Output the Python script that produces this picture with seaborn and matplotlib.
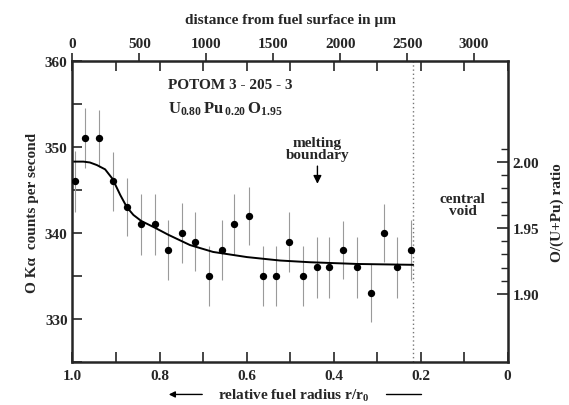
import numpy as np
import pandas as pd
import matplotlib
matplotlib.use("Agg")
import matplotlib.pyplot as plt
import matplotlib.ticker as ticker
import seaborn as sns

# puntos medidos (radio relativo r/r0, cuentas O Ka por segundo)
r_pts = [0.994, 0.971, 0.939, 0.908, 0.875, 0.842, 0.810, 0.780, 0.749, 0.718,
         0.687, 0.657, 0.628, 0.595, 0.563, 0.532, 0.502, 0.470, 0.439, 0.410,
         0.379, 0.347, 0.314, 0.284, 0.253, 0.222]
counts = [346, 351, 351, 346, 343, 341, 341, 338, 340, 339,
          335, 338, 341, 342, 335, 335, 339, 335, 336, 336,
          338, 336, 333, 340, 336, 338]
errs = [3.5, 3.5, 3.3, 3.4, 3.4, 3.5, 3.5, 3.5, 3.5, 3.4,
        3.5, 3.5, 3.5, 3.4, 3.5, 3.5, 3.5, 3.5, 3.5, 3.5,
        3.4, 3.5, 3.4, 3.4, 3.5, 3.5]

# curva ajustada
r_fit = [0.999, 0.975, 0.960, 0.944, 0.925, 0.908, 0.890, 0.875, 0.860, 0.842,
         0.810, 0.780, 0.730, 0.677, 0.599, 0.523, 0.454, 0.346, 0.217]
c_fit = [348.3, 348.3, 348.2, 347.9, 347.4, 346.3, 344.4, 343.0, 342.1, 341.4,
         340.6, 339.8, 338.6, 337.8, 337.2, 336.8, 336.6, 336.4, 336.3]

r_melt = 0.217      # limite del vacio central
r0_um = 3250.0      # radio de la pastilla en micras
um_ticks = [0, 500, 1000, 1500, 2000, 2500, 3000]
ratio_major = [1.90, 1.95, 2.00]
ratio_minor = [1.91, 1.92, 1.93, 1.94, 1.96, 1.97, 1.98, 1.99, 2.01]

# calibracion cuentas -> O/M
c_ref, om_ref, slope = 348.26, 2.00, 153.5

sns.set_style("ticks")
plt.rcParams["font.family"] = ["Liberation Serif", "DejaVu Serif"]
plt.rcParams["font.weight"] = "bold"
plt.rcParams["mathtext.fontset"] = "custom"
plt.rcParams["mathtext.rm"] = "Liberation Serif:bold"
plt.rcParams["mathtext.bf"] = "Liberation Serif:bold"
plt.rcParams["mathtext.it"] = "Liberation Serif:bold"

fig = plt.figure(figsize=(5.69, 4.06), dpi=100)
ax = fig.add_axes([0.1274, 0.1059, 0.7646, 0.7414])

df = pd.DataFrame({"r": r_pts, "c": counts, "e": errs})
fit = pd.DataFrame({"r": r_fit, "c": c_fit})

ax.errorbar(df["r"], df["c"], yerr=df["e"], fmt="none", ecolor="#9a9a9a",
            elinewidth=0.8, capsize=0, zorder=1)
sns.lineplot(data=fit, x="r", y="c", color="black", lw=1.4, ax=ax,
             estimator=None, zorder=2)
sns.scatterplot(data=df, x="r", y="c", color="black", s=28, edgecolor="black",
                linewidth=0, ax=ax, zorder=3)
ax.axvline(r_melt, color="#777777", ls=(0, (1, 2)), lw=1.0, zorder=0)

ax.set_xlim(1.0, 0.0)
ax.set_ylim(325, 360)
ax.set_xlabel("")
ax.set_ylabel("O K\u03b1  counts per second", fontsize=11, fontweight="bold", labelpad=4)

ax.xaxis.set_major_locator(ticker.MultipleLocator(0.2))
ax.xaxis.set_minor_locator(ticker.MultipleLocator(0.1))
ax.xaxis.set_major_formatter(ticker.FuncFormatter(
    lambda v, p: "0" if abs(v) < 1e-9 else f"{v:.1f}"))
ax.yaxis.set_major_locator(ticker.MultipleLocator(10))
ax.yaxis.set_minor_locator(ticker.MultipleLocator(5))
ax.tick_params(which="both", direction="in", top=True, bottom=True, left=True,
               right=False, width=1.2, labelsize=11)
ax.tick_params(which="major", length=7)
ax.tick_params(which="minor", length=7)
ax.tick_params(axis="x", pad=5)
for s in ax.spines.values():
    s.set_linewidth(1.8)
    s.set_visible(True)

# eje superior: distancia desde la superficie
top = ax.secondary_xaxis("top", functions=(lambda r: (1 - r) * r0_um,
                                            lambda d: 1 - d / r0_um))
top.set_xticks(um_ticks)
top.tick_params(direction="out", length=6, width=1.2, labelsize=11, pad=2)
top.set_xlabel("distance from fuel surface in \u00b5m", fontsize=11,
               fontweight="bold", labelpad=10)

# eje derecho: relacion O/(U+Pu)
right = ax.secondary_yaxis("right", functions=(
    lambda c: om_ref + (c - c_ref) / slope,
    lambda om: c_ref + (om - om_ref) * slope))
right.yaxis.set_major_locator(ticker.FixedLocator(ratio_major))
right.yaxis.set_minor_locator(ticker.FixedLocator(ratio_minor))
right.yaxis.set_major_formatter(ticker.FormatStrFormatter("%.2f"))
right.tick_params(which="major", direction="in", length=8, width=1.2, labelsize=11)
right.tick_params(which="minor", direction="in", length=5, width=1.0)
right.set_ylabel("O/(U+Pu) ratio", fontsize=11, fontweight="bold", labelpad=8)

for lab in ax.get_xticklabels() + ax.get_yticklabels():
    lab.set_fontweight("bold")

# textos
ax.text(0.780, 357.3, "POTOM 3 - 205 - 3", fontsize=11, fontweight="bold",
        ha="left", va="center")
ax.text(0.780, 354.5, r"$\mathbf{U_{0.80}\,Pu_{\,0.20}\,O_{1.95}}$", fontsize=12,
        ha="left", va="center")
ax.text(0.437, 349.8, "melting\nboundary", fontsize=11, fontweight="bold",
        ha="center", va="center", linespacing=0.95)
ax.annotate("", xy=(0.437, 345.4), xytext=(0.437, 348.1),
            arrowprops=dict(arrowstyle="-|>", color="black", lw=1.0,
                            mutation_scale=12))
ax.text(0.103, 343.3, "central\nvoid", fontsize=11, fontweight="bold",
        ha="center", va="center", linespacing=0.95)

# etiqueta inferior con flechas
fig.text(0.517, 0.004, r"relative fuel radius r/r$_{0}$", fontsize=11,
         fontweight="bold", ha="center", va="bottom")
fig.add_artist(matplotlib.patches.FancyArrowPatch(
    (205 / 569, 0.026), (166 / 569, 0.026), transform=fig.transFigure,
    arrowstyle="-|>", mutation_scale=9, lw=1.0, color="black"))
fig.add_artist(matplotlib.lines.Line2D([386 / 569, 421 / 569], [0.026, 0.026],
                                       transform=fig.transFigure, lw=1.0,
                                       color="black"))

fig.savefig("out.png", dpi=100)
